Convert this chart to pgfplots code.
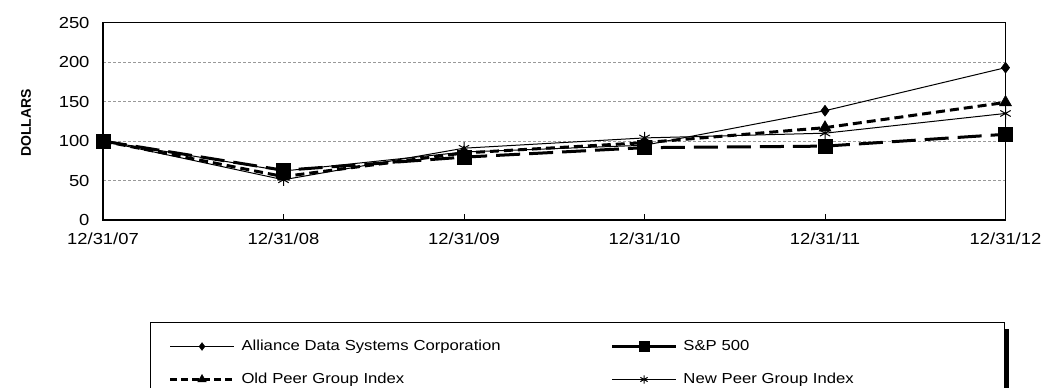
\documentclass[border=0pt]{standalone}
\usepackage{fontspec}
\setmainfont{Liberation Sans}[FakeStretch=1.15]
\newfontfamily\plainsans{Liberation Sans}
\usepackage{pgfplots}
\pgfplotsset{compat=1.18}

\begin{document}
\begin{tikzpicture}[x=1bp,y=1bp]
\useasboundingbox (0,0) rectangle (1045,387);
\begin{axis}[
  at={(103bp,167bp)}, anchor=south west,
  scale only axis, width=902.5bp, height=197.3bp,
  xmin=0, xmax=5, ymin=0, ymax=250,
  xtick={0,1,2,3,4,5},
  xticklabels={12/31/07,12/31/08,12/31/09,12/31/10,12/31/11,12/31/12},
  ytick={0,50,100,150,200,250},
  ymajorgrids,
  grid style={gray!80, dash pattern=on 3bp off 2bp, line width=0.6bp},
  axis line style={line width=1.3bp},
  xtick style={black, line width=1bp},
  xtick align=inside, xtick pos=bottom,
  major tick length=6bp,
  ytick style={draw=none},
  /pgf/number format/assume math mode=true,
  tick label style={font=\fontsize{16bp}{19bp}\selectfont},
  xticklabel style={yshift=-9bp},
  yticklabel style={xshift=-10bp},
  legend columns=2,
  legend image code/.code={\draw[mark repeat=2,mark phase=2, every mark/.append style={scale=0.7}] plot coordinates {(0bp,0bp)(32bp,0bp)(64bp,0bp)};},
  legend style={name=leg, at={(0.0521,-0.517)}, anchor=north west, draw=black, line width=1bp,
    fill=white, inner xsep=18bp, inner ysep=15bp, column sep=4bp, row sep=15bp,
    font=\fontsize{14.5bp}{17bp}\selectfont,
    nodes={text height=11bp, text depth=3bp, align=left}},
]
\addplot[black, line width=1bp, mark=diamond*, mark size=5.5bp, mark options={solid, line width=0.5bp}]
  coordinates {(0,100) (1,62.05) (2,86.13) (3,94.72) (4,138.47) (5,193.04)};
\addlegendentry[text width=363bp]{Alliance Data Systems Corporation}
\addplot[black, line width=3bp, dash pattern=on 24bp off 9bp, mark=square*, mark size=7bp,
  mark options={solid, line width=0.5bp}, legend image post style={solid}]
  coordinates {(0,100) (1,63.00) (2,79.67) (3,91.67) (4,93.61) (5,108.59)};
\addlegendentry[text width=301bp]{S\&P 500}
\addplot[black, line width=3bp, dash pattern=on 9bp off 5bp, mark=triangle*, mark size=7bp,
  mark options={solid, line width=0.5bp}, legend image post style={dash pattern=on 7bp off 4bp}]
  coordinates {(0,100) (1,55) (2,85) (3,98) (4,117) (5,149)};
\addlegendentry[text width=363bp]{Old Peer Group Index}
\addplot[black, line width=1bp, mark=asterisk, mark size=6bp, mark options={solid, line width=1bp}]
  coordinates {(0,100) (1,51) (2,91) (3,104) (4,110) (5,135)};
\addlegendentry[text width=301bp]{New Peer Group Index}
\end{axis}
\fill[black] ([yshift=-7bp]leg.north east) rectangle ([xshift=4bp,yshift=-7bp]leg.south east);
\node[rotate=90, font=\plainsans\bfseries\fontsize{14bp}{16bp}\selectfont] at (26,264) {DOLLARS};
\end{tikzpicture}
\end{document}
